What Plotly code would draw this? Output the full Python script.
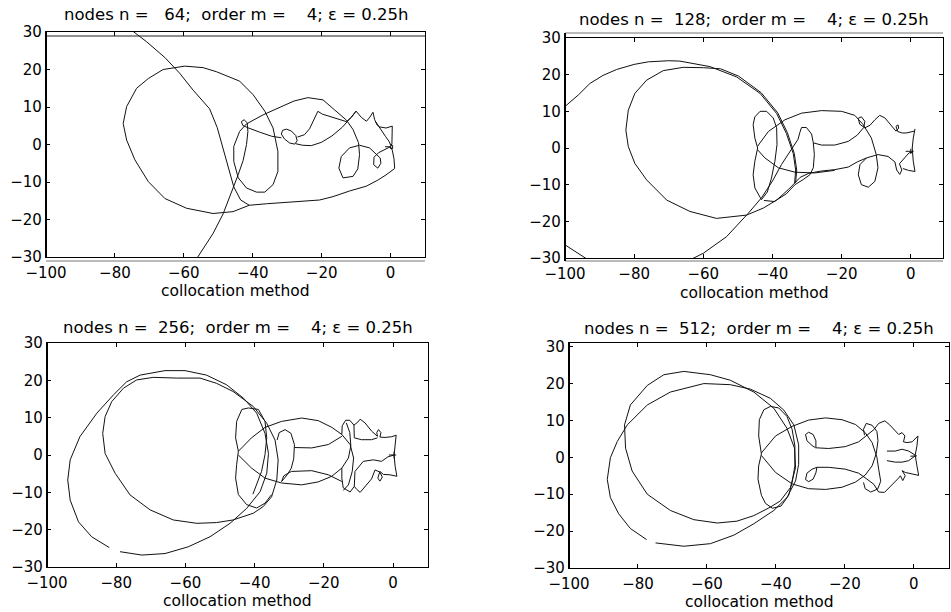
import plotly.graph_objects as go

# Trajectories computed with the collocation method, one per grid size.
# Each list holds (x, y) points; None separates pieces of the drawn curve.
nodes = [64, 128, 256, 512]
order_m = 4
x_ticks = [-100, -80, -60, -40, -20, 0]
y_ticks = [-30, -20, -10, 0, 10, 20, 30]

path_n64 = [
    (-75.2, 30.5), (-70.8, 27.4), (-65.5, 23.2), (-61.2, 19.0), (-57.3, 14.5), (-52.5, 9.5),
    (-50.3, 4.5), (-48.6, -1.0), (-47.0, -6.5), (-45.5, -11.3), (-43.5, -14.8), (-41.0, -16.2),
    (-36.0, -15.8), (-28.3, -15.2), (-20.6, -14.8), (-16.7, -13.9), (-11.9, -12.4), (-7.0, -11.1),
    (-3.7, -9.5), (-1.3, -8.1), (1.2, -6.4), (1.0, -3.8), (0.5, -1.5), (0.0, -0.6), None,
    (-41.0, -16.2), (-45.7, -17.9), (-51.5, -18.4), (-59.2, -17.0), (-65.5, -14.4), (-70.3, -9.9),
    (-74.2, -4.1), (-76.6, 1.2), (-77.6, 5.6), (-76.6, 10.1), (-73.7, 15.0), (-70.3, 17.6),
    (-66.0, 20.0), (-59.7, 20.9), (-54.4, 20.5), (-50.5, 19.4), (-43.8, 16.9), (-39.9, 13.3),
    (-36.5, 8.9), (-34.1, 4.4), (-32.7, -1.8), (-32.7, -7.2), (-34.1, -10.7), (-36.5, -12.7),
    (-38.9, -12.7), (-41.8, -11.6), (-44.2, -8.9), (-45.5, -4.5), (-45.5, -0.5), (-43.8, 3.5),
    (-41.8, 5.5), (-37.0, 7.9), (-31.2, 10.3), (-28.0, 11.6), (-24.0, 12.5), (-19.6, 11.9),
    (-16.2, 9.2), (-12.8, 6.5), (-10.9, 4.0), (-9.3, 0.5), (-9.0, -2.7), (-9.5, -6.5),
    (-10.9, -8.5), (-13.8, -8.9), (-15.0, -6.3), (-14.3, -3.2), (-11.9, -0.9), (-9.0, -0.2),
    (-6.1, -0.9), (-4.5, -2.2), (-3.0, -3.6), (-2.8, -5.0), (-3.7, -6.3), (-4.9, -5.4),
    (-4.8, -3.4), (-3.5, -2.2), (-2.2, -1.5), (-0.5, -0.8), (0.2, -0.6), None,
    (-56.3, -30.5), (-51.5, -23.7), (-48.6, -18.5), (-46.2, -13.0), (-44.2, -8.0), (-42.8, -4.3),
    (-41.8, 0.0), (-41.4, 3.5), (-41.6, 5.8), (-42.5, 6.6), (-43.3, 6.1), (-42.9, 5.1),
    (-41.5, 4.5), (-38.0, 3.3), (-34.5, 2.2), (-31.7, 1.8), None,
    (-31.7, 2.8), (-31.3, 3.8), (-30.2, 4.1), (-28.8, 3.6), (-27.5, 2.4), (-27.1, 1.0),
    (-27.8, 0.1), (-29.3, 0.4), (-30.8, 1.5), (-31.7, 2.8), None,
    (-27.5, 0.2), (-25.5, -0.2), (-23.0, -0.3), (-20.0, 0.6), (-17.0, 2.3), (-14.0, 4.6),
    (-11.5, 7.2), (-10.0, 8.9), None,
    (-27.0, 2.0), (-25.0, 2.6), (-23.5, 4.2), (-22.3, 6.5), (-21.1, 8.85), (-19.8, 8.1),
    (-17.7, 7.5), (-14.5, 6.5), (-12.8, 6.1), (-11.3, 7.3), (-10.0, 8.9), (-8.5, 7.25),
    (-7.0, 6.2), (-6.0, 7.3), (-5.1, 8.6), (-4.6, 6.6), (-3.9, 5.2), (-3.2, 4.7), (-1.3, 4.4),
    (0.5, 4.9), (0.5, 2.5), (0.4, 0.2), (0.1, -0.4), None,
    (-4.4, 6.2), (-2.8, 3.8), (-1.5, 2.2), (-0.4, 0.8), (0.1, -0.3), None,
    (-1.6, -0.6), (0.0, -0.6), (0.0, -1.1), (0.6, -1.1), (0.6, -0.2), (0.0, -0.2),
]

path_n128 = [
    (-101.0, 10.5), (-96.0, 14.6), (-92.8, 17.6), (-89.0, 19.8), (-85.1, 21.4), (-80.0, 22.8),
    (-75.9, 23.5), (-70.0, 23.8), (-66.8, 23.7), (-58.1, 22.2), (-50.4, 19.4), (-43.6, 14.9),
    (-38.8, 9.4), (-36.0, 4.0), (-34.0, -1.5), (-33.3, -6.0), (-33.6, -9.6), (-32.0, -8.0),
    (-29.5, -6.9), (-26.0, -6.3), (-22.0, -5.9), (-18.1, -5.2), (-15.5, -3.8), (-12.8, -2.7),
    (-9.5, -1.8), (-6.6, -2.3), (-4.6, -3.8), (-4.1, -6.0), (-3.2, -7.2), (-2.6, -6.0),
    (-3.3, -4.3), (-2.0, -2.8), (-0.5, -1.3), (0.5, -1.2), None,
    (-60.0, 21.9), (-65.8, 22.0), (-71.6, 21.1), (-76.4, 18.5), (-79.8, 14.9), (-81.7, 10.3),
    (-82.4, 4.9), (-81.7, 0.4), (-79.8, -4.2), (-76.4, -8.7), (-70.6, -14.2), (-63.9, -17.3),
    (-56.2, -19.2), (-47.5, -18.3), (-42.7, -16.4), (-38.8, -14.2), (-35.5, -11.4), (-33.3, -9.3),
    (-33.0, -6.0), (-33.7, -1.5), (-35.7, 4.2), (-38.5, 9.6), (-43.3, 15.1), (-49.8, 19.6),
    (-55.0, 21.6), (-60.0, 21.9), None,
    (-101.0, -25.8), (-92.5, -31.0), None,
    (-67.0, -32.0), (-60.0, -28.7), (-53.3, -24.2), (-50.9, -21.8), (-47.0, -17.8), (-43.2, -13.6),
    (-40.0, -9.0), (-37.4, -4.5), (-34.5, -0.5), (-32.6, 2.4), (-32.1, 4.2), (-31.6, 5.6),
    (-30.2, 5.6), (-28.7, 3.8), (-28.2, 1.4), (-27.9, -1.8), (-28.2, -5.4), (-29.2, -7.3),
    (-31.1, -8.6), (-33.5, -10.0), (-36.0, -12.5), (-39.5, -14.6), (-42.5, -14.3), None,
    (-43.6, 10.0), (-41.7, 10.0), (-39.8, 8.2), (-38.8, 5.5), (-38.7, 0.9), (-39.3, -3.6),
    (-40.3, -8.2), (-41.5, -12.0), (-43.2, -14.1), (-45.1, -10.9), (-45.6, -7.3), (-45.1, -3.6),
    (-44.3, 0.0), (-45.1, 2.7), (-45.6, 6.4), (-45.1, 8.5), (-43.6, 10.0), None,
    (-44.3, 0.5), (-41.2, 4.5), (-36.4, 7.7), (-31.6, 9.5), (-25.8, 10.2), (-20.0, 10.0),
    (-16.2, 8.9), (-13.8, 6.4), (-11.4, 2.7), (-10.0, -1.8), (-9.5, -5.4), (-10.4, -9.1),
    (-12.3, -10.7), (-14.3, -10.0), (-15.2, -7.3), (-14.7, -4.5), (-12.8, -2.7), None,
    (-44.3, -0.5), (-42.2, -2.7), (-38.3, -5.4), (-33.5, -6.6), (-27.8, -6.8), (-22.0, -6.1), None,
    (-28.2, 1.4), (-25.8, 0.8), (-22.0, 0.8), (-18.1, 1.8), (-15.5, 3.5), (-13.6, 5.6),
    (-13.3, 7.3), (-14.3, 8.5), (-15.2, 8.1), (-14.8, 6.5), (-13.3, 5.5), (-11.8, 6.2),
    (-10.4, 7.7), (-9.0, 8.9), (-7.5, 8.2), (-5.6, 5.9), (-4.3, 4.6), (-3.5, 5.4), (-3.7, 6.3),
    (-4.3, 5.9), (-3.8, 4.5), (-2.5, 4.1), (-1.3, 4.1), (1.0, 4.6), None,
    (1.2, 5.2), (0.7, 2.7), (0.4, 0.0), (0.7, -3.6), (1.2, -6.4), (-0.7, -6.1), (-2.3, -5.6), None,
    (-1.5, -0.9), (0.8, -0.9), None, (0.0, -0.2), (0.0, -1.6),
]

path_n256 = [
    (-78.9, -25.9), (-72.6, -26.8), (-65.9, -26.4), (-59.2, -24.6), (-52.9, -21.9), (-47.1, -18.3),
    (-42.3, -14.3), (-38.4, -9.8), (-36.5, -4.9), (-36.0, 0.4), (-37.0, 5.8), (-39.4, 11.2),
    (-43.2, 15.2), (-48.1, 18.8), (-53.9, 21.4), (-60.1, 22.6), (-65.9, 22.6), (-73.1, 21.4),
    (-77.0, 19.6), (-80.8, 16.1), (-85.6, 11.2), (-90.5, 4.9), (-93.3, -1.3), (-94.0, -6.7),
    (-93.3, -12.1), (-90.9, -17.9), (-87.1, -21.9), (-82.0, -24.8), None,
    (-62.5, 20.6), (-55.8, 20.6), (-51.0, 19.2), (-46.2, 17.0), (-40.4, 13.0), (-36.5, 8.5),
    (-34.1, 4.0), (-33.2, -1.3), (-33.6, -6.7), (-35.1, -11.2), (-37.5, -13.8), (-40.4, -15.6),
    (-46.2, -17.4), (-51.0, -18.1), (-56.7, -18.3), (-63.5, -17.4), (-70.2, -14.7), (-76.0, -10.7),
    (-80.3, -4.9), (-83.2, 0.4), (-83.9, 5.8), (-83.2, 10.3), (-81.3, 14.3), (-77.9, 17.9),
    (-74.1, 20.1), (-69.3, 20.8), (-62.5, 20.6), None,
    (-35.1, -10.6), (-37.0, -12.9), (-39.4, -14.2), (-42.3, -13.3), (-44.7, -10.6), (-45.5, -6.2),
    (-45.2, -2.6), (-44.7, 1.0), (-45.5, 4.6), (-45.2, 9.0), (-43.7, 12.2), (-41.8, 12.6),
    (-38.9, 12.2), (-37.0, 9.0), (-36.5, 4.6), (-37.0, 0.1), (-38.0, -4.4), (-39.9, -8.9),
    (-40.5, -10.5), None,
    (-44.7, 1.0), (-40.9, 4.6), (-37.0, 7.4), (-32.2, 9.0), (-26.4, 9.9), (-21.6, 9.2),
    (-17.7, 7.4), (-14.8, 5.5), (-12.4, 2.8), (-11.4, -0.8), (-11.8, -4.4), (-12.9, -8.0),
    (-14.4, -9.5), None,
    (-44.7, 0.0), (-40.9, -3.5), (-37.0, -6.2), (-32.2, -7.5), (-26.4, -8.0), (-21.6, -7.2),
    (-17.7, -5.7), (-14.8, -3.5), (-12.9, -0.8), (-12.2, 2.5), (-12.5, 6.0), (-13.5, 8.6), None,
    (-14.8, 5.5), (-14.7, 7.8), (-13.7, 9.3), (-12.5, 9.3), (-11.3, 8.0), (-10.2, 8.8),
    (-9.5, 9.6), (-8.1, 8.6), (-6.2, 6.4), (-4.5, 5.0), (-4.7, 6.0), (-4.2, 6.8), (-3.5, 6.0),
    (-3.8, 4.8), (-2.3, 4.7), (-0.4, 4.9), (0.9, 5.3), (0.6, 2.8), (0.3, 0.0), (0.6, -3.0),
    (1.1, -5.7), (-0.9, -5.3), (-2.8, -5.2), (-3.8, -4.4), (-4.4, -6.2), (-3.8, -7.0),
    (-3.1, -5.9), (-3.8, -4.6), (-5.2, -4.0), (-6.2, -6.4), (-8.1, -8.6), (-9.5, -10.0),
    (-10.5, -9.2), (-11.2, -8.4), (-12.4, -9.9), (-14.4, -8.8), (-14.8, -6.2), (-14.8, -3.5), None,
    (-11.3, 8.0), (-11.2, 4.6), (-9.1, 4.1), (-6.2, 4.1), (-4.5, 4.6), None,
    (-11.2, -8.4), (-11.0, -4.4), (-8.6, -1.7), (-5.7, -1.3), (-3.3, -1.7), (-1.5, -0.5), (0.3, 0.0), None,
    (-33.5, 4.0), (-32.9, 6.0), (-31.2, 6.8), (-29.5, 5.8), (-28.5, 2.8), (-28.7, -1.0),
    (-29.4, -3.5), (-30.5, -5.2), (-32.2, -7.1), (-31.6, -5.6), (-30.0, -4.7), (-29.3, -4.4),
    (-23.5, -4.2), (-18.7, -5.3), (-14.8, -7.1), None,
    (-28.5, 2.0), (-23.5, 1.9), (-18.7, 2.8), (-14.8, 5.0), None,
    (-1.2, 0.0), (0.9, 0.0), None, (0.3, 0.9), (0.3, -0.9),
]

path_n512 = [
    (-74.9, -23.2), (-66.7, -24.1), (-59.0, -23.4), (-52.2, -21.1), (-46.4, -18.0), (-40.6, -14.4),
    (-36.8, -10.9), (-34.3, -6.4), (-33.4, -1.9), (-33.4, 3.4), (-34.8, 8.8), (-37.7, 12.8),
    (-41.6, 16.0), (-47.4, 18.5), (-53.2, 19.7), (-60.9, 20.0), (-70.6, 17.7), (-77.3, 14.2),
    (-83.1, 8.8), (-86.0, 4.3), (-88.0, -0.1), (-88.9, -6.0), (-88.0, -10.9), (-85.6, -15.3),
    (-82.2, -19.3), (-77.5, -22.3), None,
    (-66.7, 23.3), (-59.0, 22.4), (-53.2, 20.9), (-46.4, 17.7), (-40.6, 13.3), (-36.8, 7.9),
    (-34.6, 2.5), (-34.3, -2.8), (-35.8, -8.2), (-38.7, -11.8), (-41.6, -13.5), (-46.4, -15.8),
    (-51.3, -17.3), (-57.0, -17.8), (-63.8, -16.9), (-70.6, -14.4), (-77.3, -10.0), (-81.7, -3.7),
    (-83.6, 2.5), (-83.9, 8.8), (-82.2, 14.2), (-77.3, 19.5), (-72.5, 22.4), (-66.7, 23.3), None,
    (-41.6, 13.8), (-39.2, 13.4), (-36.8, 11.1), (-35.3, 7.6), (-34.5, 3.1), (-34.5, -2.3),
    (-35.3, -6.8), (-36.3, -10.3), (-38.5, -13.2), (-41.0, -13.8), (-43.0, -12.5), (-44.2, -10.3),
    (-45.2, -5.9), (-45.0, -2.3), (-44.2, 0.9), (-45.0, 5.8), (-44.8, 10.2), (-43.5, 12.9),
    (-41.6, 13.8), None,
    (-44.2, 1.2), (-40.1, 5.8), (-35.3, 8.4), (-30.5, 10.1), (-25.6, 10.7), (-20.8, 10.2),
    (-16.9, 8.9), (-14.1, 6.7), (-12.1, 4.0), (-10.7, 0.0), (-10.2, -3.2), (-9.6, -6.5),
    (-10.5, -8.6), (-12.5, -9.4), (-14.1, -8.5), (-14.6, -6.8), None,
    (-44.2, 0.5), (-40.1, -4.1), (-35.3, -7.2), (-30.5, -8.5), (-25.6, -8.7), (-20.8, -8.1),
    (-16.9, -6.7), (-14.1, -4.8), (-12.1, -2.3), (-10.9, 1.0), (-10.4, 4.5), (-10.7, 7.0),
    (-12.1, 8.7), (-13.8, 9.2), (-14.6, 7.6), (-14.3, 6.0), None,
    (-28.4, 2.7), (-28.4, 4.5), (-29.2, 6.2), (-30.5, 6.8), (-31.4, 6.2), (-31.0, 4.5),
    (-29.5, 3.2), (-28.5, 2.6), (-24.7, 2.4), (-19.9, 2.9), (-16.0, 4.2), (-13.6, 5.9),
    (-11.6, 7.5), (-10.2, 9.2), (-8.4, 9.9), (-7.0, 8.8), (-5.6, 7.3), (-4.4, 6.2), (-3.4, 6.7),
    (-2.6, 5.8), (-3.0, 4.2), (-2.0, 4.0), (-0.5, 4.2), (1.2, 5.8), (0.9, 3.1), (0.4, 0.6),
    (0.9, -2.3), (1.4, -4.9), (-0.5, -4.5), (-2.5, -4.1), (-3.4, -3.6), (-2.5, -5.0),
    (-3.2, -6.3), (-3.9, -5.0), (-4.4, -5.6), (-5.6, -6.8), (-7.0, -8.2), (-8.5, -9.5),
    (-10.2, -9.4), (-11.6, -7.3), (-13.6, -5.9), (-16.0, -4.3), (-19.9, -3.2), (-24.7, -2.7),
    (-28.1, -2.7), (-28.4, -4.2), (-29.2, -5.9), (-30.5, -6.6), (-31.4, -6.0), (-31.0, -4.3),
    (-29.5, -3.2), (-28.1, -2.7), None,
    (-7.8, 1.7), (-5.4, 1.7), (-3.4, 2.2), (-1.5, 1.7), (0.4, 0.6), None,
    (-7.8, -0.9), (-5.4, -1.3), (-3.4, -1.3), (-1.5, -0.9), (0.4, 0.4), None,
    (-1.0, 0.3), (0.9, 0.4),
]

W, H = 951, 612
FONT = "DejaVu Sans"

# plot-area boxes in pixels (left, right, top, bottom), axis ranges and label offsets
panels = [
    dict(path=path_n64, box=(46, 425, 32, 257), xr=[-100, 10], yr=[-30, 30], title_dy=18, xlab_dy=34),
    dict(path=path_n128, box=(565, 943, 38, 258), xr=[-100, 9.3], yr=[-30, 30], title_dy=18, xlab_dy=35),
    dict(path=path_n256, box=(47, 428, 343, 567), xr=[-100, 10.1], yr=[-30, 30], title_dy=16, xlab_dy=34),
    dict(path=path_n512, box=(569, 949, 343, 568), xr=[-100, 10.2], yr=[-30, 31], title_dy=15, xlab_dy=34),
]


def split_path(path):
    xs, ys = [], []
    for p in path:
        if p is None:
            xs.append(None)
            ys.append(None)
        else:
            xs.append(p[0])
            ys.append(p[1])
    return xs, ys


def nb(s):
    return s.replace(" ", "\u00a0")


fig = go.Figure()
layout = dict(
    width=W, height=H, margin=dict(l=0, r=0, t=0, b=0, autoexpand=False),
    paper_bgcolor="white", plot_bgcolor="white", showlegend=False,
    font=dict(family=FONT, size=15, color="black"),
)
annotations = []
shapes = []

for i, (n, pnl) in enumerate(zip(nodes, panels), start=1):
    sfx = "" if i == 1 else str(i)
    left, right, top, bottom = pnl["box"]
    xs, ys = split_path(pnl["path"])
    fig.add_trace(go.Scatter(
        x=xs, y=ys, mode="lines", xaxis="x" + sfx, yaxis="y" + sfx,
        line=dict(color="#111111", width=1), hoverinfo="skip", connectgaps=False,
    ))
    common = dict(
        showgrid=False, zeroline=False, showline=True, linecolor="black", linewidth=1.2,
        mirror="ticks", ticks="inside", ticklen=4, tickcolor="black", tickwidth=1,
        tickfont=dict(family=FONT, size=15, color="black"), automargin=False,
    )
    layout["xaxis" + sfx] = dict(
        common, domain=[left / W, right / W], range=pnl["xr"], anchor="y" + sfx,
        tickvals=x_ticks, ticklabelstandoff=2,
    )
    layout["yaxis" + sfx] = dict(
        common, domain=[1 - bottom / H, 1 - top / H], range=pnl["yr"], anchor="x" + sfx,
        tickvals=y_ticks,
    )
    cx = (left + right) / 2 / W
    title = f"nodes n = {n:4d};  order m = {order_m:4d}; ε = 0.25h"
    annotations.append(dict(
        text=nb(title), x=cx, y=1 - (top - pnl["title_dy"]) / H, xref="paper", yref="paper",
        showarrow=False, xanchor="center", yanchor="middle",
        font=dict(family=FONT, size=16.5, color="black"),
    ))
    annotations.append(dict(
        text="collocation method", x=cx, y=1 - (bottom + pnl["xlab_dy"]) / H,
        xref="paper", yref="paper", showarrow=False, xanchor="center", yanchor="middle",
        font=dict(family=FONT, size=15.5, color="black"),
    ))
    # heavier left frame edge
    shapes.append(dict(type="line", xref="x" + sfx + " domain", yref="y" + sfx + " domain",
                       x0=0, x1=0, y0=0, y1=1, line=dict(color="black", width=2)))

# doubled frame edges on the upper panels
shapes += [
    dict(type="line", xref="x domain", yref="y domain", x0=0, x1=1,
         y0=(257 - 36) / 225, y1=(257 - 36) / 225, line=dict(color="#222", width=1.2)),
    dict(type="line", xref="x domain", yref="y domain", x0=0, x1=1,
         y0=-4 / 225, y1=-4 / 225, line=dict(color="#777", width=1)),
    dict(type="line", xref="x2 domain", yref="y2 domain", x0=0, x1=1,
         y0=1 + 5 / 220, y1=1 + 5 / 220, line=dict(color="#777", width=1)),
    dict(type="line", xref="x2 domain", yref="y2 domain", x0=0, x1=1,
         y0=-3 / 220, y1=-3 / 220, line=dict(color="#777", width=1)),
    dict(type="line", xref="x2 domain", yref="y2 domain", x0=0, x1=0,
         y0=-3 / 220, y1=1 + 5 / 220, line=dict(color="black", width=2)),
]

layout["annotations"] = annotations
layout["shapes"] = shapes
fig.update_layout(**layout)
fig.write_html("out.html")
